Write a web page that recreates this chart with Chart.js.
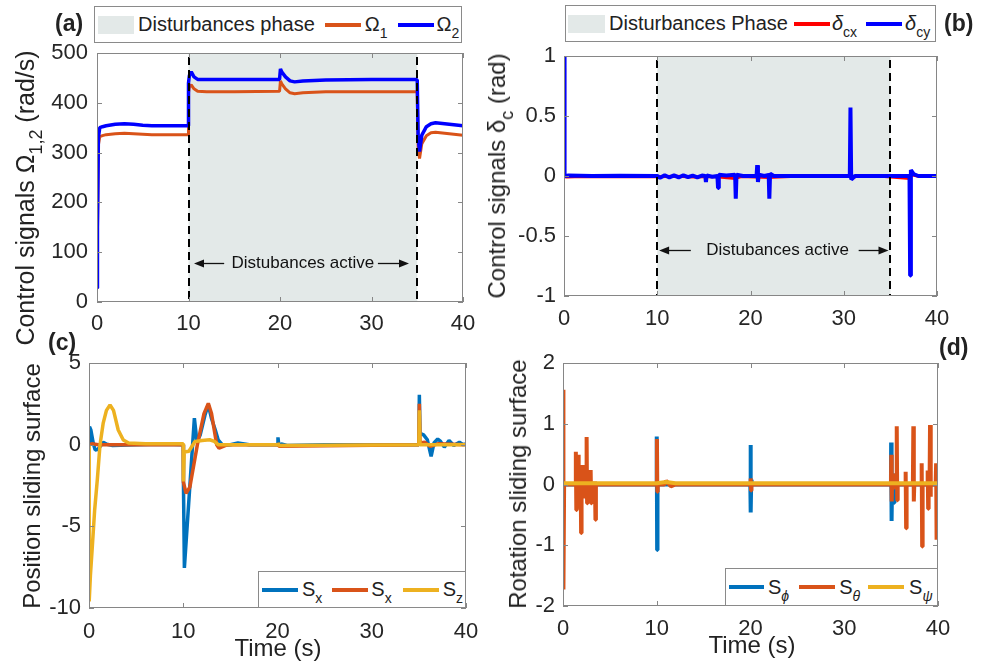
<!DOCTYPE html>
<html>
<head>
<meta charset="utf-8">
<script src="https://cdn.jsdelivr.net/npm/chart.js@4.4.1/dist/chart.umd.min.js"></script>
<style>
body{margin:0;width:988px;height:666px;position:relative;background:#fff;overflow:hidden;font-family:"Liberation Sans",Arial,Helvetica,sans-serif;color:#222}
canvas{position:absolute;left:0;top:0}
.tag{position:absolute;font-weight:bold;font-size:23px;transform:translateY(-50%)}
.ytitle{position:absolute;font-size:24px;white-space:nowrap;transform:translate(-50%,-50%) rotate(-90deg)}
.xtitle{position:absolute;font-size:24px;white-space:nowrap;transform:translate(-50%,-50%)}
.leg{position:absolute;border:1px solid #8a8a8a;background:#fff;display:flex;align-items:center;font-size:20px;box-sizing:border-box;white-space:nowrap}
.sw{display:inline-block;width:36px;height:18px;background:#e3e9e8}
.ln{display:inline-block;width:36px;height:4px}
sub{font-size:14px;vertical-align:-7px;line-height:0}
.ytitle sub{font-size:18px;vertical-align:-8px}
</style>
</head>
<body>
<canvas id="cA" width="988" height="666"></canvas>
<canvas id="cB" width="988" height="666"></canvas>
<canvas id="cC" width="988" height="666"></canvas>
<canvas id="cD" width="988" height="666"></canvas>

<div class="tag" style="left:55px;top:23px">(a)</div>
<div class="tag" style="left:944px;top:23px">(b)</div>
<div class="tag" style="left:48px;top:342px">(c)</div>
<div class="tag" style="left:939px;top:347px">(d)</div>

<div class="ytitle" style="left:25px;top:198px;font-size:25px">Control signals &Omega;<sub>1,2</sub> (rad/s)</div>
<div class="ytitle" style="left:497px;top:176px">Control signals &delta;<sub>c</sub> (rad)</div>
<div class="ytitle" style="left:32px;top:486px">Position sliding surface</div>
<div class="ytitle" style="left:518px;top:484px">Rotation sliding surface</div>
<div class="xtitle" style="left:278px;top:648px">Time (s)</div>
<div class="xtitle" style="left:752px;top:645px">Time (s)</div>

<div class="leg" style="left:94px;top:6px;width:368px;height:37px">
  <span class="sw" style="margin-left:3px"></span><span style="margin-left:4px">Disturbances phase</span>
  <span class="ln" style="margin-left:10px;background:#d95319"></span><span style="margin-left:4px">&Omega;<sub>1</sub></span>
  <span class="ln" style="margin-left:10px;background:#0000ff"></span><span style="margin-left:3px">&Omega;<sub>2</sub></span>
</div>
<div class="leg" style="left:565px;top:5px;width:371px;height:37px">
  <span class="sw" style="margin-left:2px;width:37px"></span><span style="margin-left:4px">Disturbances Phase</span>
  <span class="ln" style="margin-left:6px;background:#ff0000"></span><span style="margin-left:2px"><i>&delta;</i><sub>cx</sub></span>
  <span class="ln" style="margin-left:9px;background:#0000ff"></span><span style="margin-left:3px"><i>&delta;</i><sub>cy</sub></span>
</div>
<div class="leg" style="left:258px;top:571px;width:208px;height:37px">
  <span class="ln" style="margin-left:3px;background:#0072bd"></span><span style="margin-left:4px">S<sub>x</sub></span>
  <span class="ln" style="margin-left:10px;background:#d95319"></span><span style="margin-left:3px">S<sub>x</sub></span>
  <span class="ln" style="margin-left:11px;background:#edb120"></span><span style="margin-left:4px">S<sub>z</sub></span>
</div>
<div class="leg" style="left:725px;top:568px;width:213px;height:38px">
  <span class="ln" style="margin-left:3px;width:35px;background:#0072bd"></span><span style="margin-left:4px">S<sub><i>&#981;</i></sub></span>
  <span class="ln" style="margin-left:10px;background:#d95319"></span><span style="margin-left:4px">S<sub><i>&theta;</i></sub></span>
  <span class="ln" style="margin-left:8px;background:#edb120"></span><span style="margin-left:5px">S<sub><i>&psi;</i></sub></span>
</div>

<script>
// (a) rotor speeds
const timeOmega = [0, 0.05, 0.15, 0.3, 0.6, 1, 2, 3, 4, 5, 6, 8, 9.95, 10.0, 10.1, 10.3, 10.6, 11, 12, 15, 19.95, 20.05, 20.2, 20.6, 21.1, 21.6, 22.5, 25, 30, 34.9, 35.0, 35.1, 35.25, 35.5, 36, 36.5, 37, 38, 39, 40];
const omega1 = [28, 140, 315, 332, 334, 336, 338, 339, 338, 337, 336, 336, 336, 420, 432, 436, 428, 423, 422, 422, 423, 444, 438, 428, 420, 418, 420, 422, 422, 422, 420, 310, 288, 318, 334, 340, 341, 339, 337, 335];
const omega2 = [28, 150, 330, 350, 352, 354, 357, 358, 357, 355, 354, 354, 354, 440, 455, 462, 452, 447, 447, 447, 447, 468, 462, 452, 444, 442, 444, 446, 447, 447, 445, 330, 302, 335, 352, 358, 360, 358, 356, 354];

// (b) control surface deflections
const timeDcx = [0, 0.06, 0.3, 2, 5, 8, 10, 12, 14, 16, 18.4, 19, 22, 23, 25, 28, 30.7, 30.85, 31.3, 34, 37.1, 37.3, 38, 40];
const deltaCx = [0.9, -0.006, -0.008, -0.005, -0.007, -0.005, -0.007, -0.003, -0.008, -0.005, -0.02, -0.005, -0.012, -0.008, -0.003, -0.002, 0, -0.02, -0.003, -0.002, -0.02, 0.01, -0.003, -0.003];
const timeDcy = [0, 0.06, 0.5, 3, 6, 10, 10.3, 10.8, 11.3, 11.8, 12.3, 12.8, 13.3, 13.8, 14.3, 14.8, 15.15, 15.22, 15.3, 15.9, 16.45, 16.52, 16.6, 17.4, 18.35, 18.42, 18.5, 19.2, 20.65, 20.72, 20.8, 20.88, 21.5, 21.95, 22.02, 22.1, 22.5, 30.65, 30.72, 30.8, 31.2, 37.05, 37.12, 37.2, 37.5, 38, 40];
const deltaCy = [1, 0, 0.004, 0, 0.003, 0, -0.015, 0.006, -0.012, 0.005, -0.012, 0.006, -0.01, 0.004, -0.012, 0.004, 0, -0.05, 0.005, -0.006, 0, -0.1, 0.01, 0.004, 0.01, -0.19, 0.01, 0, 0, 0.09, -0.05, 0.01, 0, 0.01, -0.19, 0.02, 0, 0, 0.57, -0.03, 0, 0, -0.83, 0.05, 0.015, 0, 0];

// (c) position sliding surfaces
const timeSx1 = [0, 0.05, 0.2, 0.45, 0.65, 0.9, 1.2, 1.5, 1.9, 2.5, 5, 8, 10, 10.02, 10.12, 11.18, 11.45, 11.8, 12.3, 12.65, 13.0, 13.4, 13.7, 14.2, 15, 15.8, 17, 19.95, 20.05, 20.15, 20.4, 21, 25, 30, 35, 35.05, 35.12, 35.5, 35.9, 36.3, 36.6, 37, 37.3, 37.7, 38.2, 38.7, 39.3, 39.7, 40];
const sx1 = [0, 1.1, 0.9, 0.1, -0.32, -0.3, -0.1, 0.15, 0.02, -0.05, 0, 0.02, 0, -2.3, -7.55, 1.62, 0.2, 0.6, 1.8, 2.45, 1.6, 0.9, 0.3, -0.05, 0, 0.1, 0, 0, 0.45, -0.1, 0.05, -0.05, 0, 0, 0, 3.05, 0.7, 0.6, 0.3, -0.72, 0.1, 0.35, 0.2, -0.15, 0.25, -0.05, 0.15, 0, 0.05];
const timeSx2 = [0, 0.3, 1, 3, 10, 10.02, 10.3, 10.7, 11.5, 12.2, 12.66, 13.0, 13.55, 13.8, 14.7, 20, 20.05, 20.15, 35, 35.05, 35.12, 35.6, 36.2, 37, 40];
const sx2 = [0, 0.05, 0, 0, 0, -2.3, -2.98, -2.6, 0, 1.9, 2.53, 1.9, 0, -0.22, 0, 0, 0.1, -0.1, 0, 2.5, 0.1, 0.15, -0.1, 0.05, 0];
const timeSz = [0, 0.02, 0.15, 0.35, 0.6, 0.88, 1.17, 1.5, 1.85, 2.23, 2.6, 3.1, 3.64, 4.2, 6, 10, 10.02, 10.1, 10.6, 11.25, 12, 12.8, 13.3, 13.7, 20, 20.05, 20.15, 35, 35.05, 35.12, 40];
const sz = [0, -9.6, -8, -6.26, -4, -2.16, 0, 1.3, 2.1, 2.43, 2.1, 0.9, 0.29, 0.1, 0.05, 0.05, -2.26, -0.45, -0.4, 0.2, 0.25, 0.3, 0.2, 0, 0, 0.1, -0.05, 0, 2.1, 0, 0];

// (d) rotation sliding surfaces
const timePhi = [0, 9.98, 10.0, 10.04, 10.08, 19.98, 20.0, 20.04, 20.08, 20.12, 34.98, 35.0, 35.05, 35.1, 35.26, 35.28, 35.32, 35.36, 40];
const sPhi = [0, 0, 0.79, -1.08, 0, 0, 0.65, -0.46, 0.08, 0, 0, 0.69, -0.6, 0, 0, 0.18, -0.3, 0, 0];
const timeTheta = [
  0, 0.02, 0.07, 0.12,
  1.33, 1.37, 1.42, 1.47,   1.58, 1.62, 1.67, 1.72,   1.84, 1.88, 1.93, 1.98,
  2.14, 2.18, 2.23, 2.28,   2.48, 2.52, 2.57, 2.62,   2.91, 2.95, 3.0, 3.05,
  3.37, 3.41, 3.46, 3.51,
  9.98, 10.02, 10.06, 10.1,   10.8, 11.0, 11.5, 12,   19.98, 20.02, 20.06, 20.1,
  34.98, 35.02, 35.06, 35.1,   35.26, 35.3, 35.34, 35.38,   35.55, 35.6, 35.65, 35.7,
  36.5, 36.55, 36.6, 36.65,   37.32, 37.37, 37.42, 37.47,   38.21, 38.26, 38.31, 38.36,
  38.85, 38.9, 38.95, 39.0,   39.1, 39.15, 39.2, 39.25,   39.75, 39.8, 39.85, 39.9,
  39.95, 40];
const sTheta = [
  0, 1.56, -1.73, 0,
  0, 0.54, -0.42, 0,   0, 0.49, -0.4, 0,   0, 0.32, -0.8, 0,
  0, 0.32, -0.23, 0,   0, 0.78, -0.31, 0,   0, 0.24, -0.31, 0,
  0, 0.05, -0.58, 0,
  0, 0.75, -0.12, 0,   0, 0.06, -0.03, 0,   0, 0.1, -0.1, 0,
  0, 0.49, -0.28, 0,   0, 0.18, -0.05, 0,   0, 0.96, -0.26, 0,
  0, 0.21, -0.72, 0,   0, 0.96, -0.28, 0,   0, 0.35, -1.02, 0,
  0, 0.23, -0.4, 0,   0, 0.98, -0.2, 0,   0, 0.35, -0.91, 0,
  0.3, -0.2];
const timePsi = [0, 10, 11, 12, 40];
const sPsi = [0.02, 0.02, 0.04, 0.02, 0.02];

const disturbancePhase = [10, 35];
const FONT = '"Liberation Sans", Arial, Helvetica, sans-serif';
const W = 988, H = 666, YW = 60, XH = 40;

const pts = (t, v) => t.map((x, i) => ({x, y: v[i]}));

function series(t, v, color, width, order) {
  return {data: pts(t, v), borderColor: color, borderWidth: width, order,
          pointRadius: 0, tension: 0, borderJoinStyle: 'bevel', fill: false};
}

function arrow(ctx, x0, x1, y) {
  const d = Math.sign(x1 - x0);
  ctx.beginPath(); ctx.moveTo(x0, y); ctx.lineTo(x1 - d * 6, y); ctx.stroke();
  ctx.beginPath(); ctx.moveTo(x1, y); ctx.lineTo(x1 - d * 10, y - 4); ctx.lineTo(x1 - d * 10, y + 4); ctx.closePath(); ctx.fill();
}

// shaded phase, dashed bounds, note, matlab-style box with inward ticks
const frame = {
  id: 'frame',
  beforeDatasetsDraw(chart, args, o) {
    if (!o.phase) return;
    const {ctx, chartArea: a, scales: {x}} = chart;
    const x0 = x.getPixelForValue(o.phase[0]), x1 = x.getPixelForValue(o.phase[1]);
    ctx.save();
    ctx.fillStyle = '#e3e9e8';
    ctx.fillRect(x0, a.top, x1 - x0, a.bottom - a.top);
    ctx.restore();
  },
  afterDatasetsDraw(chart, args, o) {
    const {ctx, chartArea: a, scales: {x, y}} = chart;
    ctx.save();
    if (o.phase) {
      ctx.strokeStyle = '#000'; ctx.lineWidth = 2; ctx.setLineDash([8, 5]);
      o.phase.forEach(t => {
        const px = Math.round(x.getPixelForValue(t));
        ctx.beginPath(); ctx.moveTo(px, a.top + 4); ctx.lineTo(px, a.bottom); ctx.stroke();
      });
      ctx.setLineDash([]);
    }
    if (o.note) {
      const yy = Math.round(y.getPixelForValue(o.note.y)) + 0.5;
      ctx.fillStyle = '#111'; ctx.strokeStyle = '#111'; ctx.lineWidth = 1.3;
      ctx.font = '17px ' + FONT; ctx.textAlign = 'center'; ctx.textBaseline = 'middle';
      ctx.fillText(o.note.text, x.getPixelForValue(o.note.x), yy);
      arrow(ctx, x.getPixelForValue(o.note.left[1]), x.getPixelForValue(o.note.left[0]), yy);
      arrow(ctx, x.getPixelForValue(o.note.right[0]), x.getPixelForValue(o.note.right[1]), yy);
    }
    ctx.strokeStyle = '#868686'; ctx.lineWidth = 1;
    ctx.strokeRect(a.left + 0.5, a.top + 0.5, a.right - a.left - 1, a.bottom - a.top - 1);
    ctx.beginPath();
    x.ticks.forEach(t => {
      const px = Math.round(x.getPixelForValue(t.value)) + 0.5;
      ctx.moveTo(px, a.bottom); ctx.lineTo(px, a.bottom - 5);
      ctx.moveTo(px, a.top); ctx.lineTo(px, a.top + 5);
    });
    y.ticks.forEach(t => {
      const py = Math.round(y.getPixelForValue(t.value)) + 0.5;
      ctx.moveTo(a.left, py); ctx.lineTo(a.left + 5, py);
      ctx.moveTo(a.right, py); ctx.lineTo(a.right - 5, py);
    });
    ctx.stroke();
    ctx.restore();
  }
};

function panel(id, box, yMin, yMax, yStep, datasets, extra, pad) {
  const tickFont = {family: FONT, size: 22};
  return new Chart(document.getElementById(id), {
    type: 'line',
    data: {datasets},
    options: {
      responsive: false, animation: false, events: [],
      layout: {padding: {left: box.l - YW, top: box.t, right: W - box.r, bottom: H - box.b - XH}},
      scales: {
        x: {type: 'linear', min: 0, max: 40,
            ticks: {stepSize: 10, font: tickFont, color: '#262626', padding: pad.x, maxRotation: 0, autoSkip: false},
            grid: {display: false, drawTicks: false}, border: {display: false},
            afterFit: s => { s.height = XH; }},
        y: {min: yMin, max: yMax,
            ticks: {stepSize: yStep, font: tickFont, color: '#262626', padding: pad.y, autoSkip: false,
                    callback: v => String(+v.toFixed(2))},
            grid: {display: false, drawTicks: false}, border: {display: false},
            afterFit: s => { s.width = YW; }}
      },
      plugins: {legend: {display: false}, tooltip: {enabled: false}, frame: extra}
    },
    plugins: [frame]
  });
}

panel('cA', {l: 97, t: 53, r: 463, b: 302}, 0, 500, 100, [
  series(timeOmega, omega1, '#d95319', 3, 2),
  series(timeOmega, omega2, '#0000ff', 3.5, 1)
], {phase: disturbancePhase, note: {text: 'Distubances active', x: 22.5, y: 78, left: [10.6, 13.9], right: [30.7, 34.1]}}, {x: 9, y: 9});

panel('cB', {l: 564, t: 56, r: 937, b: 296}, -1, 1, 0.5, [
  series(timeDcx, deltaCx, '#ff0000', 3, 2),
  series(timeDcy, deltaCy, '#0000ff', 4, 1)
], {phase: disturbancePhase, note: {text: 'Distubances active', x: 22.9, y: -0.62, left: [10.2, 13.6], right: [31.6, 34.8]}}, {x: 10, y: 8});

panel('cC', {l: 89, t: 363, r: 466, b: 608}, -10, 5, 5, [
  series(timeSx1, sx1, '#0072bd', 3.5, 3),
  series(timeSx2, sx2, '#d95319', 3.5, 2),
  series(timeSz, sz, '#edb120', 3.5, 1)
], {}, {x: 11, y: 8});

panel('cD', {l: 563, t: 363, r: 938, b: 606}, -2, 2, 1, [
  series(timePhi, sPhi, '#0072bd', 4, 3),
  series(timeTheta, sTheta, '#d95319', 4, 2),
  series(timePsi, sPsi, '#edb120', 4, 1)
], {}, {x: 10, y: 8});
</script>
</body>
</html>
